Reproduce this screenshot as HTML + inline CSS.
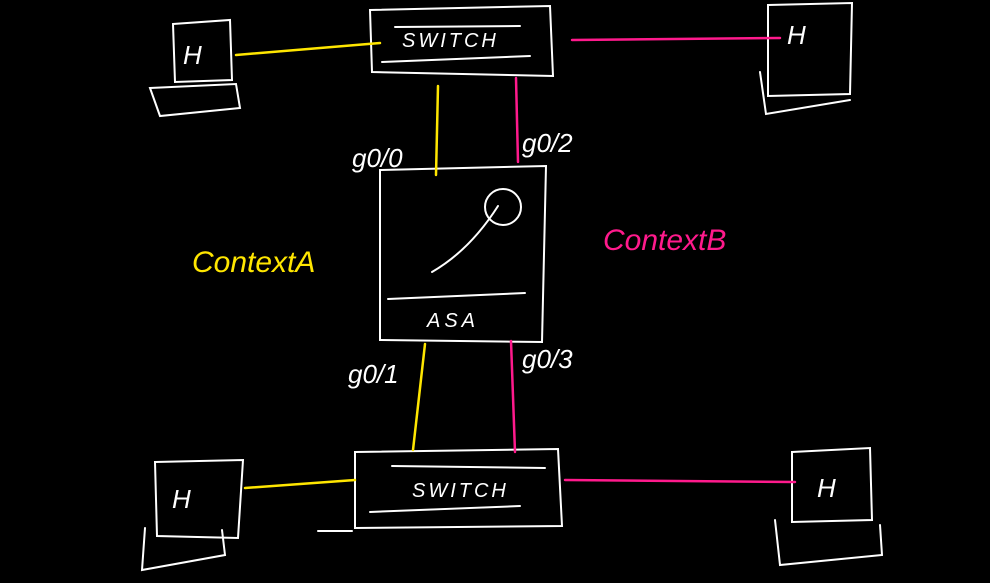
<!DOCTYPE html>
<html><head><meta charset="utf-8"><style>
html,body{margin:0;padding:0;background:#000;}
svg{display:block;}
text{font-family:"Liberation Sans",sans-serif;font-style:italic;}
</style></head><body>
<svg width="990" height="583" viewBox="0 0 990 583" xmlns="http://www.w3.org/2000/svg">
<rect width="990" height="583" fill="#000"/>
<g fill="none" stroke="#fff" stroke-width="2" stroke-linecap="round">
  <!-- top switch -->
  <path d="M370 10 L550 6 L553 76 L372 72 Z"/>
  <path d="M395 27 L520 26"/>
  <path d="M382 62 L530 56"/>
  <!-- top-left host -->
  <path d="M173 24 L230 20 L232 80 L175 82 Z"/>
  <path d="M150 88 L236 84 L240 108 L160 116 Z"/>
  <!-- top-right host -->
  <path d="M768 5 L852 3 L850 94 L768 96 Z"/>
  <path d="M760 72 L766 114 L850 100"/>
  <!-- ASA -->
  <path d="M380 170 L546 166 L542 342 L380 340 Z"/>
  <circle cx="503" cy="207" r="18"/>
  <path d="M432 272 Q470 250 498 206"/>
  <path d="M388 299 L525 293"/>
  <!-- bottom switch -->
  <path d="M355 452 L558 449 L562 526 L355 528 Z"/>
  <path d="M392 466 L545 468"/>
  <path d="M370 512 L520 506"/>
  <path d="M318 531 L352 531"/>
  <!-- bottom-left host -->
  <path d="M155 462 L243 460 L238 538 L157 536 Z"/>
  <path d="M145 528 L142 570 L225 555 L222 530"/>
  <!-- bottom-right host -->
  <path d="M792 452 L870 448 L872 520 L792 522 Z"/>
  <path d="M775 520 L780 565 L882 555 L880 525"/>
</g>
<g fill="none" stroke="#ffe600" stroke-width="2.5" stroke-linecap="round">
  <path d="M236 55 L380 43"/>
  <path d="M438 86 L436 175"/>
  <path d="M425 344 L413 450"/>
  <path d="M245 488 L355 480"/>
</g>
<g fill="none" stroke="#ff1a8c" stroke-width="2.5" stroke-linecap="round">
  <path d="M572 40 L780 38"/>
  <path d="M516 78 L518 162"/>
  <path d="M511 341 L515 452"/>
  <path d="M565 480 L795 482"/>
</g>
<g fill="#fff" font-size="20">
  <text x="402" y="47" letter-spacing="3">SWITCH</text>
  <text x="412" y="497" letter-spacing="3">SWITCH</text>
  <text x="427" y="327" letter-spacing="4">ASA</text>
  <text x="183" y="64" font-size="26">H</text>
  <text x="787" y="44" font-size="26">H</text>
  <text x="172" y="508" font-size="26">H</text>
  <text x="817" y="497" font-size="26">H</text>
  <text x="352" y="167" font-size="26">g0/0</text>
  <text x="522" y="152" font-size="26">g0/2</text>
  <text x="348" y="383" font-size="26">g0/1</text>
  <text x="522" y="368" font-size="26">g0/3</text>
</g>
<text x="192" y="272" font-size="30" fill="#ffe600">ContextA</text>
<text x="603" y="250" font-size="30" fill="#ff1a8c">ContextB</text>
</svg>
</body></html>
